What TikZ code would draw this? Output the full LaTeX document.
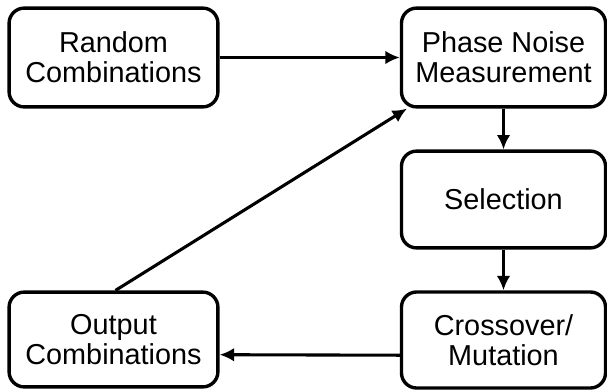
\documentclass[tikz,border=0pt]{standalone}
\usepackage{fontspec}
\setmainfont{Liberation Sans}
\usepackage{tikz}
\usetikzlibrary{arrows.meta}

\begin{document}
\begin{tikzpicture}[x=0.025cm, y=-0.025cm,
    stage/.style={draw=black, line width=2.4pt, rounded corners=0.38cm,
        align=center, inner sep=0pt, font=\fontsize{20.5}{21.5}\selectfont},
    arr/.style={line width=2.2pt, -{Latex[length=0.36cm, width=0.34cm]}}]
    \useasboundingbox (0,0) rectangle (607,391);
    % left column
    \node[stage, minimum width=5.22cm, minimum height=2.47cm] (rand) at (113.5,57.5) {Random\\Combinations};
    \node[stage, minimum width=5.22cm, minimum height=2.37cm] (outc) at (113.5,339.5) {Output\\Combinations};
    % right column
    \node[stage, minimum width=5.1cm, minimum height=2.47cm] (phase) at (503.5,57.5) {Phase Noise\\Measurement};
    \node[stage, minimum width=5.1cm, minimum height=2.42cm] (sel) at (503.5,199.5) {Selection};
    \node[stage, minimum width=5.1cm, minimum height=2.4cm] (cross) at (503.5,340) {Crossover/\\Mutation};
    % connectors
    \draw[arr] (rand) -- (phase);
    \draw[arr] (phase) -- (sel);
    \draw[arr] (sel) -- (cross);
    \draw[arr] ([yshift=-0.38cm]cross.west) -- ([yshift=-0.38cm]outc.east);
    \draw[arr] ([xshift=0.05cm]outc.north) -- ([xshift=0.18cm]phase.south west);
\end{tikzpicture}
\end{document}
